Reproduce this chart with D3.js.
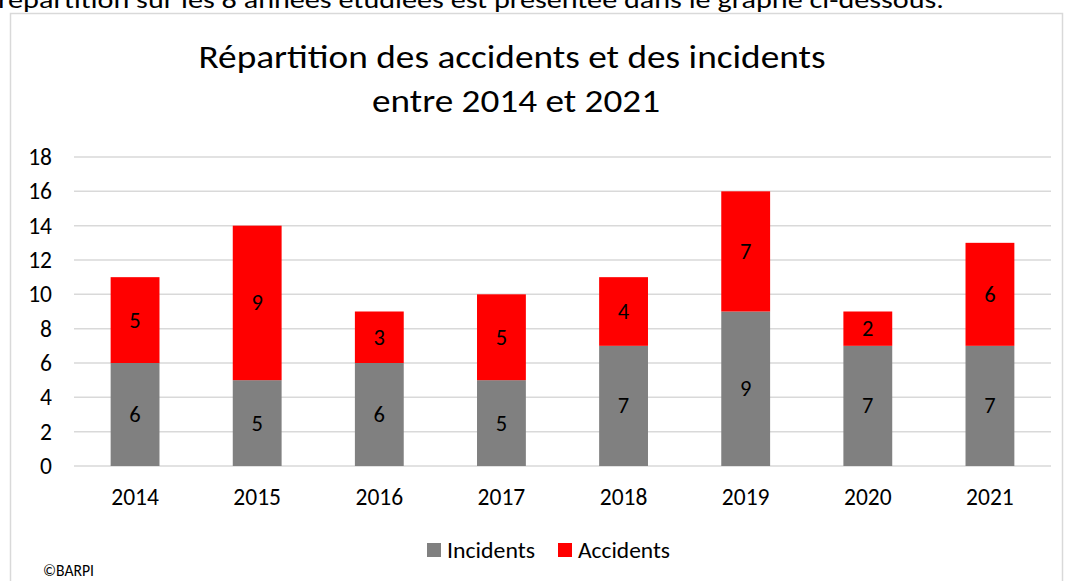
<!DOCTYPE html>
<html>
<head>
<meta charset="utf-8">
<script src="https://cdn.jsdelivr.net/npm/d3@7"></script>
<style>
  body { margin: 0; background: #fff; overflow: hidden; }
  svg text { font-family: Carlito, Calibri, Lato, "Open Sans", sans-serif; fill: #000; }
</style>
</head>
<body>
<div id="chart"></div>
<script>
// data
var years = ["2014", "2015", "2016", "2017", "2018", "2019", "2020", "2021"];
var incidents = [6, 5, 6, 5, 7, 9, 7, 7];
var accidents = [5, 9, 3, 5, 4, 7, 2, 6];
var yTicks = [0, 2, 4, 6, 8, 10, 12, 14, 16, 18];
var seriesNames = ["Incidents", "Accidents"];
var seriesColors = ["#808080", "#ff0000"];

var W = 1065, H = 581;
var margin = { top: 157, right: 14, bottom: 115, left: 74 };
var width = W - margin.left - margin.right;
var height = H - margin.top - margin.bottom;

var svg = d3.select("#chart").append("svg")
    .attr("width", W)
    .attr("height", H);

// sentence from the page above the chart (cut off like in the scan)
svg.append("text")
    .attr("x", -2)
    .attr("y", 8)
    .attr("textLength", 946)
    .attr("lengthAdjust", "spacingAndGlyphs")
    .style("font-size", "24px")
    .text("répartition sur les 8 années étudiées est présentée dans le graphe ci-dessous.");

// chart frame
svg.append("rect")
    .attr("x", 10.5)
    .attr("y", 13.5)
    .attr("width", 1052)
    .attr("height", 600)
    .attr("fill", "none")
    .attr("stroke", "#d9d9d9")
    .attr("stroke-width", 1.5);

// title
svg.append("text")
    .attr("x", 512)
    .attr("y", 68)
    .attr("text-anchor", "middle")
    .attr("textLength", 627)
    .attr("lengthAdjust", "spacingAndGlyphs")
    .style("font-size", "33px")
    .text("Répartition des accidents et des incidents");
svg.append("text")
    .attr("x", 516)
    .attr("y", 112)
    .attr("text-anchor", "middle")
    .attr("textLength", 288)
    .attr("lengthAdjust", "spacingAndGlyphs")
    .style("font-size", "33px")
    .text("entre 2014 et 2021");

var g = svg.append("g")
    .attr("transform", "translate(" + margin.left + "," + margin.top + ")");

var x = d3.scaleBand()
    .domain(years)
    .range([0, width])
    .paddingInner(0.6)
    .paddingOuter(0.3);

var y = d3.scaleLinear()
    .domain([0, 18])
    .range([height, 0]);

// gridlines
g.append("g")
    .selectAll("line")
    .data(yTicks)
    .enter()
    .append("line")
    .attr("x1", 0)
    .attr("x2", width)
    .attr("y1", function (d) { return y(d); })
    .attr("y2", function (d) { return y(d); })
    .attr("stroke", "#d9d9d9")
    .attr("stroke-width", 1.5);

// y axis labels
var yAxis = g.append("g")
    .attr("transform", "translate(-22,0)")
    .call(d3.axisLeft(y).tickValues(yTicks).tickSize(0).tickPadding(0));
yAxis.select(".domain").remove();
yAxis.selectAll("text")
    .style("font-family", "Carlito, Calibri, Lato, sans-serif")
    .style("font-size", "23.5px")
    .attr("fill", "#000");

// x axis labels
var xAxis = g.append("g")
    .attr("transform", "translate(0," + height + ")")
    .call(d3.axisBottom(x).tickSize(0).tickPadding(0));
xAxis.select(".domain").remove();
xAxis.selectAll("text")
    .attr("y", 39)
    .attr("dy", null)
    .style("font-family", "Carlito, Calibri, Lato, sans-serif")
    .style("font-size", "23.5px")
    .attr("fill", "#000");

// stacked bars
var rows = years.map(function (yr, i) {
    return { year: yr, Incidents: incidents[i], Accidents: accidents[i] };
});
var stack = d3.stack().keys(seriesNames)(rows);

var layers = g.selectAll(".layer")
    .data(stack)
    .enter()
    .append("g")
    .attr("class", "layer")
    .attr("fill", function (d, i) { return seriesColors[i]; });

layers.selectAll("rect")
    .data(function (d) { return d; })
    .enter()
    .append("rect")
    .attr("x", function (d) { return x(d.data.year); })
    .attr("y", function (d) { return y(d[1]); })
    .attr("height", function (d) { return y(d[0]) - y(d[1]); })
    .attr("width", x.bandwidth());

layers.selectAll("text")
    .data(function (d) { return d; })
    .enter()
    .append("text")
    .attr("x", function (d) { return x(d.data.year) + x.bandwidth() / 2; })
    .attr("y", function (d) { return (y(d[0]) + y(d[1])) / 2; })
    .attr("dy", "0.33em")
    .attr("text-anchor", "middle")
    .style("font-size", "22.5px")
    .text(function (d) { return d[1] - d[0]; });

// legend
var legend = svg.append("g").attr("transform", "translate(427,550)");
var legX = [0, 131];
var legW = [88, 92];
seriesNames.forEach(function (name, i) {
    legend.append("rect")
        .attr("x", legX[i])
        .attr("y", -7)
        .attr("width", 14)
        .attr("height", 14)
        .attr("fill", seriesColors[i]);
    legend.append("text")
        .attr("x", legX[i] + 20)
        .attr("y", 7.5)
        .attr("textLength", legW[i])
        .attr("lengthAdjust", "spacingAndGlyphs")
        .style("font-size", "23px")
        .text(name);
});

svg.append("text")
    .attr("x", 43)
    .attr("y", 576)
    .attr("textLength", 51)
    .attr("lengthAdjust", "spacingAndGlyphs")
    .style("font-size", "16px")
    .text("©BARPI");
</script>
</body>
</html>
